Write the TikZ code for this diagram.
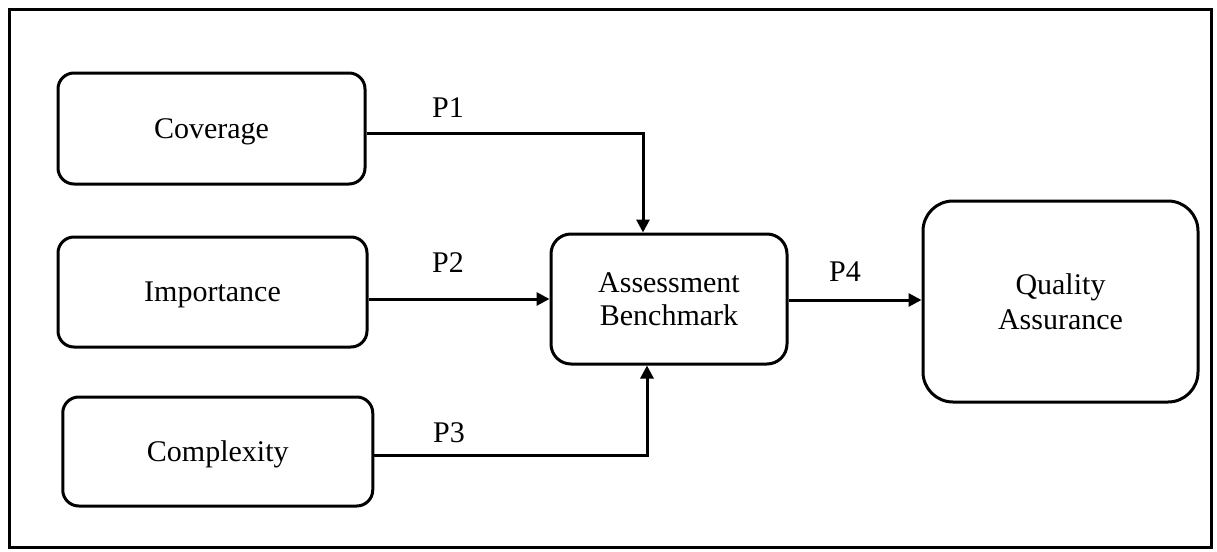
\documentclass[tikz,border=0pt]{standalone}
\usepackage{fontspec}
\setmainfont{Liberation Serif}
\usetikzlibrary{arrows.meta}
\begin{document}
\begin{tikzpicture}[x=0.5pt,y=-0.5pt,
  box/.style={draw,line width=1.5pt,rounded corners=8pt,align=center,inner sep=0pt,font=\fontsize{15}{17}\selectfont},
  onebox/.style={box,text depth=0pt},
  lab/.style={inner sep=0pt,font=\fontsize{15}{17}\selectfont},
  arr/.style={line width=1.5pt,-{Triangle[length=6.5pt,width=6.5pt]}}]
\useasboundingbox (0,0) rectangle (1217,552);
\node[draw,line width=1.5pt,minimum width=1202pt*0.5,minimum height=538pt*0.5,inner sep=0pt] (frame) at (610,278) {};
\node[onebox,minimum width=153.5pt,minimum height=55.5pt] (cov) at (211.5,128.5) {Coverage};
\node[onebox,minimum width=154.5pt,minimum height=55pt] (imp) at (212.5,292) {Importance};
\node[onebox,minimum width=155pt,minimum height=54.5pt] (cpx) at (217.75,451.5) {Complexity};
\node[box,minimum width=118pt,minimum height=65pt,rounded corners=10pt,font=\fontsize{15}{16.5}\selectfont] (ab) at (669,299) {Assessment\\Benchmark};
\node[box,minimum width=137.5pt,minimum height=100.5pt,rounded corners=15pt,font=\fontsize{15}{17.5}\selectfont] (qa) at (1060.5,301.5) {Quality\\Assurance};
\node[lab] (l1) at (448,108) {P1};
\node[lab] (l2) at (448,263) {P2};
\node[lab] (l3) at (449,433) {P3};
\node[lab] (l4) at (845,272) {P4};
\coordinate (c1) at ([yshift=-2.25pt]cov.east);
\coordinate (i1) at ([yshift=-3.5pt]imp.east);
\coordinate (x1) at ([yshift=-1.75pt]cpx.east);
\coordinate (a1) at ([yshift=-0.5pt]ab.east);
\draw[arr] (c1) -| ([xshift=-13pt]ab.north);
\draw[arr] (i1) -- (i1 -| ab.west);
\draw[arr] (x1) -| ([xshift=-11pt]ab.south);
\draw[arr] (a1) -- (a1 -| qa.west);
\end{tikzpicture}
\end{document}
